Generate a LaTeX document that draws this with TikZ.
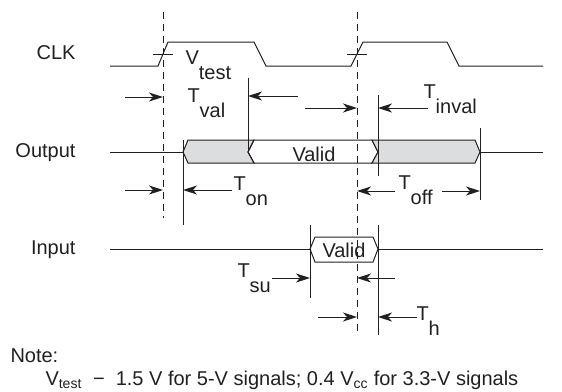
\documentclass[tikz,border=0pt]{standalone}
\usepackage{fontspec}
\setmainfont{Liberation Sans}
\usetikzlibrary{arrows.meta}

\definecolor{ink}{HTML}{231F20}
\definecolor{boxgray}{HTML}{DCDDDE}
\newcommand{\lowsub}[2]{#1\raisebox{-15pt}{#2}}

\begin{document}
\begin{tikzpicture}[x=1pt, y=-1pt, line width=1pt,
  every node/.style={font=\fontsize{20}{24}\selectfont, text=ink},
  wave/.style={draw=ink, line join=miter},
  guide/.style={draw=ink, line width=0.75pt, dash pattern=on 7pt off 5pt},
  extline/.style={draw=ink, line width=0.8pt},
  dim/.style={draw=ink, -{Stealth[length=14pt, width=9pt, inset=4pt]}},
  lbl/.style={anchor=base west, inner sep=0pt},
  signame/.style={anchor=base east, inner sep=0pt}]
\useasboundingbox (0,0) rectangle (562,391);

% signal names
\node[signame] (clk) at (76,59) {CLK};
\node[signame] (out) at (76,157) {Output};
\node[signame] (in) at (76,254) {Input};

% clock edges used as reference
\coordinate (edge1) at (163,54);
\coordinate (edge2) at (357,54);
\draw[guide] (163,12) -- (163,218);
\draw[guide] (357,12) -- (357,332);

% CLK
\draw[wave] (110,66) -- (158,66) -- (168,42) -- (254,42) -- (266,66)
  -- (351,66) -- (363,42) -- (447,42) -- (459,66) -- (543,66);
\draw[extline] ([xshift=-10pt]edge1) -- ([xshift=10pt]edge1);
\draw[extline] ([xshift=-10pt]edge2) -- ([xshift=10pt]edge2);

% Output
\draw[wave] (110,152) -- (183,152);
\draw[wave, fill=boxgray] (183,152) -- (188,140) -- (254,140) -- (248,152)
  -- (254,163) -- (188,163) -- cycle;
\draw[wave] (248,152) -- (254,140) -- (372,140) -- (378,152) -- (372,163)
  -- (254,163) -- cycle;
\draw[wave, fill=boxgray] (372,140) -- (475,140) -- (480,152) -- (475,163)
  -- (372,163) -- (378,152) -- cycle;
\draw[wave] (480,152) -- (543,152);
\node[lbl, anchor=base] (outvalid) at (314,161) {Valid};

% Input
\draw[wave] (110,249) -- (310,249);
\draw[wave] (310,249) -- (315,237) -- (373,237) -- (378,249) -- (373,262)
  -- (315,262) -- cycle;
\draw[wave] (378,249) -- (543,249);
\node[lbl, anchor=base] (invalid) at (344,257) {Valid};

% extension lines
\draw[extline] (248,78) -- (248,152);
\draw[extline] (183,140) -- (183,225);
\draw[extline] (378,95) -- (378,176);
\draw[extline] (480,128) -- (480,200);
\draw[extline] (310,225) -- (310,298);
\draw[extline] (378,225) -- (378,335);

% timing arrows
\draw[dim] (125,97) -- (163,97);
\draw[dim] (298,96) -- (248,96);
\draw[dim] (305,108) -- (357,108);
\draw[dim] (428,108) -- (378,108);
\draw[dim] (125,190) -- (163,190);
\draw[dim] (232,190) -- (183,190);
\draw[dim] (395,191) -- (357,191);
\draw[dim] (442,191) -- (480,191);
\draw[dim] (272,278) -- (310,278);
\draw[dim] (395,278) -- (357,278);
\draw[dim] (318,317) -- (357,317);
\draw[dim] (417,317) -- (378,317);

% labels
\node[lbl] (vtest) at (185,64) {\lowsub{V}{test}};
\node[lbl] (tval) at (187,102) {\lowsub{T}{val}};
\node[lbl] (tinval) at (423,98) {\lowsub{T}{inval}};
\node[lbl] (ton) at (233,190) {\lowsub{T}{on}};
\node[lbl] (toff) at (398,189) {\lowsub{T}{off}};
\node[lbl] (tsu) at (237,277) {\lowsub{T}{su}};
\node[lbl] (th) at (416,320) {\lowsub{T}{h}};

% note
\node[lbl] (note) at (10,362) {Note:};
\node[lbl] (notetext) at (45,385) {V\textsubscript{test}\ \ −\ \ 1.5 V for 5-V signals; 0.4 V\textsubscript{cc} for 3.3-V signals};
\end{tikzpicture}
\end{document}
